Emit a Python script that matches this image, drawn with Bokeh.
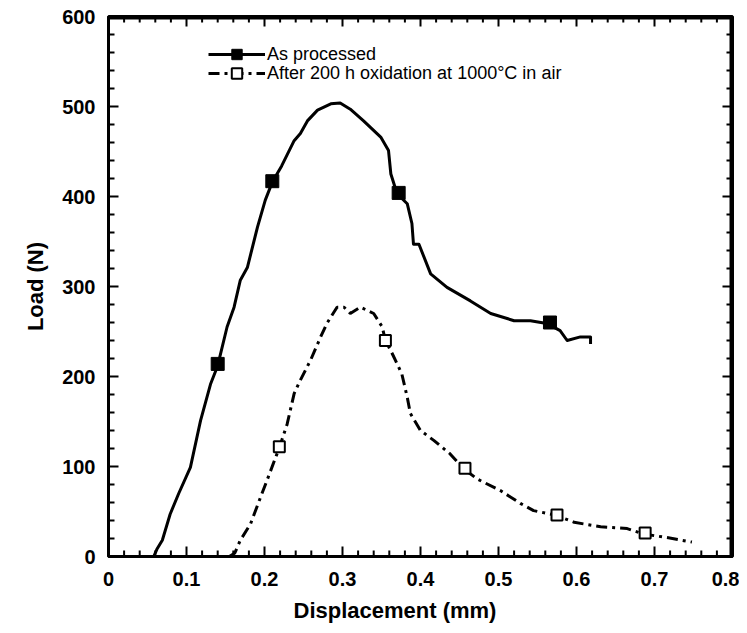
from bokeh.plotting import figure
from bokeh.models import Range1d, Legend, LegendItem, FixedTicker, Title
from bokeh.embed import file_html
from bokeh.resources import INLINE

# ---- data ----
x_asp = [0.058, 0.062, 0.069, 0.079, 0.090, 0.105, 0.118, 0.131, 0.140, 0.152, 0.161,
         0.169, 0.178, 0.191, 0.201, 0.210, 0.222, 0.238, 0.246, 0.255, 0.268, 0.285,
         0.297, 0.310, 0.327, 0.349, 0.359, 0.362, 0.370, 0.383, 0.389, 0.391, 0.398,
         0.413, 0.434, 0.464, 0.490, 0.520, 0.541, 0.562, 0.579, 0.588, 0.605, 0.618, 0.618]
y_asp = [0, 8, 18, 47, 70, 99, 151, 192, 212, 255, 277,
         307, 321, 366, 396, 416, 434, 462, 470, 484, 496, 503,
         504, 497, 484, 466, 451, 425, 403, 392, 370, 347, 347,
         314, 299, 284, 270, 262, 262, 259, 251, 240, 244, 244, 236]
mx_asp = [0.140, 0.210, 0.372, 0.566]
my_asp = [214, 417, 404, 260]

x_ox = [0.155, 0.162, 0.169, 0.182, 0.195, 0.203, 0.219, 0.229, 0.238, 0.246, 0.259,
        0.272, 0.280, 0.293, 0.302, 0.310, 0.323, 0.340, 0.351, 0.355, 0.364, 0.376,
        0.383, 0.387, 0.400, 0.417, 0.438, 0.456, 0.473, 0.503, 0.528, 0.545, 0.573,
        0.597, 0.631, 0.665, 0.686, 0.716, 0.748]
y_ox = [0, 4, 18, 36, 66, 84, 121, 147, 181, 196, 218,
        244, 259, 277, 277, 270, 277, 270, 255, 240, 225, 203,
        177, 159, 140, 129, 114, 97, 86, 73, 59, 51, 46,
        38, 33, 31, 25, 21, 16]
mx_ox = [0.219, 0.355, 0.457, 0.575, 0.688]
my_ox = [122, 240, 98, 46, 26]

x_ticks = [0, 0.1, 0.2, 0.3, 0.4, 0.5, 0.6, 0.7, 0.8]
x_tick_labels = ["0", "0.1", "0.2", "0.3", "0.4", "0.5", "0.6", "0.7", "0.8"]
y_ticks = [0, 100, 200, 300, 400, 500, 600]
y_tick_labels = ["0", "100", "200", "300", "400", "500", "600"]

x_title = "Displacement (mm)"
y_title = "Load (N)"
label_asp = "As processed"
label_ox = "After 200 h oxidation at 1000°C in air"

FONT = "Liberation Sans"

def minors(ticks, n=5):
    out = []
    for a, b in zip(ticks[:-1], ticks[1:]):
        out += [a + (b - a) * k / n for k in range(1, n)]
    return out

x_minor = minors(x_ticks)
y_minor = minors(y_ticks)

x0, x1 = x_ticks[0], x_ticks[-1]
y0, y1 = y_ticks[0], y_ticks[-1]

W, H = 739, 633
BL, BT, BR, BB = 108, 16, 7, 77
FW, FH = W - BL - BR, H - BT - BB   # frame size in px

p = figure(width=W, height=H, x_range=Range1d(x0, x1), y_range=Range1d(y0, y1),
           output_backend="svg", toolbar_location=None,
           min_border_left=BL, min_border_top=BT, min_border_right=BR, min_border_bottom=BB,
           y_axis_label=y_title)
p.grid.visible = False
p.outline_line_color = "black"
p.outline_line_width = 3
p.background_fill_color = "white"
p.border_fill_color = "white"

for ax, ticks, labels in ((p.xaxis[0], x_ticks, x_tick_labels), (p.yaxis[0], y_ticks, y_tick_labels)):
    ax.ticker = FixedTicker(ticks=ticks)
    ax.major_label_overrides = {t: l for t, l in zip(ticks, labels)}
    ax.axis_line_color = "black"
    ax.axis_line_width = 3
    ax.major_tick_line_color = None
    ax.minor_tick_line_color = None
    ax.major_tick_in = 0
    ax.major_tick_out = 0
    ax.minor_tick_in = 0
    ax.minor_tick_out = 0
    ax.major_label_text_font = FONT
    ax.major_label_text_font_style = "bold"
    ax.major_label_text_font_size = "20px"
    ax.major_label_text_color = "black"
    ax.axis_label_text_font = FONT
    ax.axis_label_text_font_style = "bold"
    ax.axis_label_text_font_size = "22px"
    ax.axis_label_text_color = "black"

p.xaxis[0].major_label_standoff = 15
p.yaxis[0].major_label_standoff = 13
p.yaxis[0].axis_label_standoff = 11

p.add_layout(Title(text=x_title, align="left", offset=185, standoff=14,
                   text_font=FONT, text_font_style="bold", text_font_size="22px",
                   text_color="black"), "below")

# curves
l1 = p.line(x_asp, y_asp, line_color="black", line_width=3, line_join="round")
s1 = p.scatter(mx_asp, my_asp, marker="square", size=13, fill_color="black", line_color="black")
l2 = p.line(x_ox, y_ox, line_color="black", line_width=3, line_dash="11 5 3 5")
s2 = p.scatter(mx_ox, my_ox, marker="square", size=11, fill_color="white", line_color="black", line_width=2)

# inward ticks on all four sides as thin filled bars (px offsets converted to data units)
MAJ, MIN, TW = 10, 6, 2
dx = (x1 - x0) / FW
dy = (y1 - y0) / FH

def vticks(xs, ybase, sign, length):
    p.rect(x=xs, y=[ybase + sign * length / 2 * dy] * len(xs), width=TW, height=length,
           width_units="screen", height_units="screen", fill_color="black", line_color=None)

def hticks(ys, xbase, sign, length):
    p.rect(x=[xbase + sign * length / 2 * dx] * len(ys), y=ys, width=length, height=TW,
           width_units="screen", height_units="screen", fill_color="black", line_color=None)

vticks(x_ticks, y0, 1, MAJ)
vticks(x_minor, y0, 1, MIN)
vticks(x_ticks, y1, -1, MAJ)
vticks(x_minor, y1, -1, MIN)
hticks(y_ticks, x0, 1, MAJ)
hticks(y_minor, x0, 1, MIN)
hticks(y_ticks, x1, -1, MAJ)
hticks(y_minor, x1, -1, MIN)

# frame top and right edges as thin filled bars just inside the frame
EW = 3
p.rect(x=[(x0 + x1) / 2], y=[y1 - EW / 2 * dy], width=[x1 - x0], height=EW,
       width_units="data", height_units="screen", fill_color="black", line_color=None)
p.rect(x=[x1 - EW / 2 * dx], y=[(y0 + y1) / 2], width=EW, height=[y1 - y0],
       width_units="screen", height_units="data", fill_color="black", line_color=None)

def make_legend(item, loc):
    lg = Legend(items=[item], location=loc)
    lg.glyph_width = 57
    lg.glyph_height = 26
    lg.label_height = 18
    lg.spacing = 0
    lg.padding = 0
    lg.margin = 0
    lg.label_standoff = 2
    lg.label_text_font = FONT
    lg.label_text_font_size = "18px"
    lg.label_text_color = "black"
    lg.label_text_baseline = "middle"
    lg.background_fill_alpha = 0
    lg.border_line_alpha = 0
    return lg

# legend rows: centres about 38 px and 57 px below the frame top
p.add_layout(make_legend(LegendItem(label=label_asp, renderers=[l1, s1]), (100, FH - 38 - 13)), "center")
p.add_layout(make_legend(LegendItem(label=label_ox, renderers=[l2, s2]), (100, FH - 57 - 13)), "center")

open("out.html", "w").write(file_html(p, INLINE))
